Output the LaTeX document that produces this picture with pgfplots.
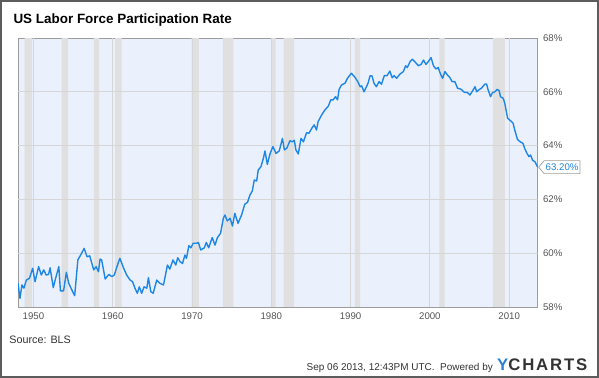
\documentclass[border=0pt]{standalone}
\usepackage{pgfplots}
\pgfplotsset{compat=1.18}
\usepackage{fontspec}
\setmainfont{Liberation Sans}
\usetikzlibrary{shapes.symbols}
\definecolor{plotbg}{HTML}{EAF0FC}
\definecolor{recess}{HTML}{E0E0E0}
\definecolor{gridc}{HTML}{D6D6D6}
\definecolor{lineblue}{HTML}{1E87E5}
\definecolor{tickc}{HTML}{555555}
\definecolor{framec}{HTML}{9C9C9C}
\definecolor{ydark}{HTML}{333333}
\definecolor{yblue}{HTML}{2A7FD4}
\pgfplotstableread{
t v
1948.05 58.88
1948.3 58.32
1948.55 58.82
1948.8 58.70
1949.1 59.0
1949.5 59.07
1949.9 59.44
1950.2 58.94
1950.65 59.5
1950.99 59.19
1951.3 59.38
1951.6 59.19
1951.9 59.21
1952.1 59.46
1952.5 58.72
1952.8 59.07
1953.2 59.5
1953.4 58.6
1953.8 58.6
1954.15 59.29
1954.45 58.88
1954.85 58.63
1955.2 58.42
1955.6 59.75
1955.95 59.93
1956.4 60.18
1956.75 59.87
1957.1 59.9
1957.6 59.38
1957.9 59.5
1958.2 59.31
1958.4 59.78
1958.6 59.75
1959.05 59.04
1959.5 59.21
1959.9 59.13
1960.2 59.19
1960.6 59.56
1960.9 59.81
1961.35 59.46
1961.75 59.19
1962.2 59.0
1962.5 58.94
1962.8 58.7
1963.1 58.51
1963.35 58.75
1963.65 58.51
1963.95 58.75
1964.3 58.7
1964.5 59.09
1964.8 58.57
1965.1 58.51
1965.55 59.0
1965.95 58.88
1966.4 58.82
1966.9 59.56
1967.2 59.41
1967.6 59.75
1967.95 59.56
1968.2 59.83
1968.5 59.68
1968.8 59.62
1969.1 59.93
1969.3 59.81
1969.6 60.28
1969.85 60.2
1970.15 60.37
1970.6 60.37
1970.8 60.4
1971.1 60.12
1971.55 60.2
1971.8 60.4
1972.1 60.2
1972.55 60.58
1972.9 60.3
1973.2 60.58
1973.6 60.74
1973.95 61.3
1974.15 61.42
1974.45 61.2
1974.8 61.3
1975.1 61.01
1975.4 61.48
1975.8 61.11
1976.25 61.42
1976.65 61.82
1977.0 61.89
1977.3 62.16
1977.6 62.31
1977.85 62.72
1978.15 62.68
1978.35 63.09
1978.7 63.22
1979.0 63.53
1979.2 63.8
1979.5 63.3
1979.85 63.71
1980.2 63.96
1980.6 63.71
1981.0 63.8
1981.4 64.27
1981.65 63.84
1981.95 63.9
1982.35 64.18
1982.65 64.14
1982.9 64.2
1983.1 63.84
1983.4 63.69
1983.75 64.27
1984.05 64.14
1984.45 64.48
1984.75 64.46
1985.1 64.64
1985.4 64.77
1985.7 64.58
1985.9 64.89
1986.35 65.14
1986.75 65.32
1987.2 65.47
1987.5 65.7
1987.8 65.7
1988.1 65.82
1988.35 65.7
1988.55 66.09
1988.85 66.25
1989.3 66.32
1989.6 66.5
1990.1 66.69
1990.55 66.54
1990.9 66.38
1991.2 66.19
1991.4 66.22
1991.7 66.0
1992.0 66.19
1992.2 66.32
1992.45 66.59
1992.7 66.59
1992.95 66.32
1993.25 66.19
1993.6 66.38
1993.9 66.28
1994.25 66.6
1994.6 66.6
1994.95 66.77
1995.25 66.52
1995.5 66.6
1995.8 66.5
1996.2 66.65
1996.65 66.75
1996.95 66.97
1997.15 66.9
1997.5 67.12
1997.8 67.21
1998.1 67.12
1998.55 66.97
1998.9 67.02
1999.2 67.18
1999.5 67.02
1999.8 67.12
2000.15 67.27
2000.45 66.97
2000.75 66.85
2001.05 66.9
2001.3 66.69
2001.6 66.5
2001.9 66.75
2002.2 66.63
2002.5 66.54
2002.8 66.38
2003.15 66.38
2003.5 66.13
2003.9 66.1
2004.35 65.98
2004.7 65.98
2005.05 65.88
2005.4 66.04
2005.7 66.19
2005.9 66.0
2006.25 66.09
2006.5 66.13
2006.95 66.29
2007.15 66.29
2007.35 66.07
2007.65 65.82
2007.9 65.97
2008.2 66.0
2008.5 66.09
2008.75 66.04
2008.9 65.82
2009.25 65.76
2009.45 65.57
2009.8 65.02
2010.15 64.93
2010.5 64.83
2010.7 64.58
2011.05 64.23
2011.35 64.15
2011.75 64.08
2011.95 63.9
2012.25 63.71
2012.5 63.59
2012.7 63.65
2012.95 63.46
2013.25 63.4
2013.6 63.2
}\lfpr
\begin{document}
\begin{tikzpicture}
\fill[white] (0,0) rectangle (599bp,378bp);
\begin{axis}[
  at={(18bp,71bp)}, anchor=south west,
  scale only axis, width=519.7bp, height=269bp,
  xmin=1948.05, xmax=2013.6, ymin=58, ymax=68,
  xtick={1950,1960,1970,1980,1990,2000,2010},
  ytick={58,60,62,64,66,68},
  yticklabel pos=right,
  major tick length=0pt,
  axis background/.style={fill=plotbg},
  axis line style={draw=framec, line width=0.8bp},
  /pgf/number format/assume math mode=true,
  /pgf/number format/1000 sep={},
  xticklabel style={font=\fontsize{9.7}{11}\selectfont, text=tickc, anchor=base, yshift=-13bp},
  yticklabel style={font=\fontsize{9.7}{11}\selectfont, text=tickc, anchor=west, xshift=1.8bp},
  yticklabel={\pgfmathprintnumber{\tick}\%},
]
\addplot[fill=recess, draw=none] coordinates {(1948.88,58) (1948.88,68) (1949.79,68) (1949.79,58)} \closedcycle;
\addplot[fill=recess, draw=none] coordinates {(1953.54,58) (1953.54,68) (1954.37,68) (1954.37,58)} \closedcycle;
\addplot[fill=recess, draw=none] coordinates {(1957.63,58) (1957.63,68) (1958.29,68) (1958.29,58)} \closedcycle;
\addplot[fill=recess, draw=none] coordinates {(1960.29,58) (1960.29,68) (1961.12,68) (1961.12,58)} \closedcycle;
\addplot[fill=recess, draw=none] coordinates {(1969.96,58) (1969.96,68) (1970.87,68) (1970.87,58)} \closedcycle;
\addplot[fill=recess, draw=none] coordinates {(1973.88,58) (1973.88,68) (1975.21,68) (1975.21,58)} \closedcycle;
\addplot[fill=recess, draw=none] coordinates {(1980.04,58) (1980.04,68) (1980.54,68) (1980.54,58)} \closedcycle;
\addplot[fill=recess, draw=none] coordinates {(1981.54,58) (1981.54,68) (1982.87,68) (1982.87,58)} \closedcycle;
\addplot[fill=recess, draw=none] coordinates {(1990.54,58) (1990.54,68) (1991.21,68) (1991.21,58)} \closedcycle;
\addplot[fill=recess, draw=none] coordinates {(2001.21,58) (2001.21,68) (2001.87,68) (2001.87,58)} \closedcycle;
\addplot[fill=recess, draw=none] coordinates {(2007.96,58) (2007.96,68) (2009.46,68) (2009.46,58)} \closedcycle;
% grid lines
\addplot[gridc, line width=0.9bp] coordinates {(1948.05,60) (2013.6,60)};
\addplot[gridc, line width=0.9bp] coordinates {(1948.05,62) (2013.6,62)};
\addplot[gridc, line width=0.9bp] coordinates {(1948.05,64) (2013.6,64)};
\addplot[gridc, line width=0.9bp] coordinates {(1948.05,66) (2013.6,66)};
\addplot[gridc, line width=0.9bp] coordinates {(1950,58) (1950,68)};
\addplot[gridc, line width=0.9bp] coordinates {(1960,58) (1960,68)};
\addplot[gridc, line width=0.9bp] coordinates {(1970,58) (1970,68)};
\addplot[gridc, line width=0.9bp] coordinates {(1980,58) (1980,68)};
\addplot[gridc, line width=0.9bp] coordinates {(1990,58) (1990,68)};
\addplot[gridc, line width=0.9bp] coordinates {(2000,58) (2000,68)};
\addplot[gridc, line width=0.9bp] coordinates {(2010,58) (2010,68)};
\addplot[lineblue, line width=1.4bp, line join=round, mark=none] table[x=t, y=v] {\lfpr};
\coordinate (last) at (axis cs:2013.6,63.2);
\end{axis}
\node[signal, signal to=west, signal pointer angle=100, draw=framec, fill=white, line width=0.7bp,
  text=lineblue, font=\fontsize{9.7}{11}\selectfont, inner sep=1.6bp, minimum height=13bp, anchor=west]
  at ([xshift=0.5bp]last) {63.20\%};
\node[anchor=base west, font=\bfseries\fontsize{13.5}{15}\selectfont, text=black] at (10bp,354.3bp) {US Labor Force Participation Rate};
\node[anchor=base west, inner sep=0pt, font=\fontsize{10.8}{12}\selectfont, text=ydark] at (9.3bp,34.5bp) {Source: BLS};
\node[anchor=base east, inner sep=0pt, font=\fontsize{10}{12}\selectfont, text=ydark] at (493bp,8bp) {Sep 06 2013, 12:43PM UTC.\ \ Powered by};
\node[anchor=base west, inner sep=0pt, font=\bfseries\fontsize{16.8}{18}\selectfont\addfontfeature{LetterSpace=11}] at (497bp,7.3bp) {\textcolor{yblue}{Y}\textcolor{ydark}{CHARTS}};
\draw[draw=ydark!80, line width=2bp] (1bp,1bp) rectangle (598bp,377bp);
\end{tikzpicture}
\end{document}
